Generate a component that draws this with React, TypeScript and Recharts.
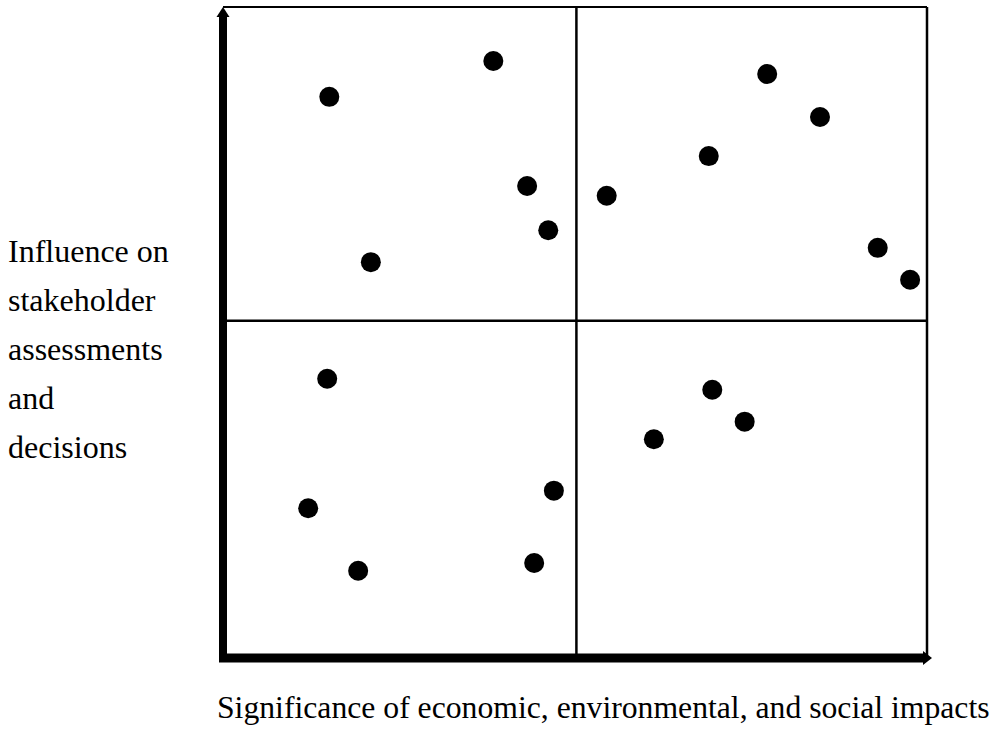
import React from "react";
import { ScatterChart, Scatter, XAxis, YAxis, ReferenceLine } from "recharts";

const significance = [15.1, 38.4, 43.2, 46.2, 21.0, 54.5, 69.0, 77.3, 84.8, 93.0, 97.6, 14.8, 12.1, 19.2, 47.0, 44.2, 69.5, 74.1, 61.2];
const influence = [86.2, 91.7, 72.5, 65.7, 60.8, 71.0, 77.1, 89.7, 83.1, 63.0, 58.1, 42.9, 23.0, 13.4, 25.7, 14.6, 41.2, 36.3, 33.6];
const xMid = 50.2;
const yMid = 51.8;
const yLabelLines = ["Influence on", "stakeholder", "assessments", "and", "decisions"];
const xLabel = "Significance of economic, environmental, and social impacts";

const points = significance.map((x, i) => ({ x, y: influence[i] }));

const FONT = "Liberation Serif";

const YAxisArrow = (p: any) => {
  const x = p.x1;
  const top = Math.min(p.y1, p.y2);
  const bottom = Math.max(p.y1, p.y2);
  return (
    <g>
      <rect x={x - 4} y={top + 9} width={8} height={bottom - top - 5} fill="#000" />
      <polygon points={`${x},${top} ${x - 6.5},${top + 10} ${x + 6.5},${top + 10}`} fill="#000" />
    </g>
  );
};

const XAxisArrow = (p: any) => {
  const y = p.y1;
  const left = Math.min(p.x1, p.x2);
  const right = Math.max(p.x1, p.x2);
  return (
    <g>
      <rect x={left - 4} y={y - 4.5} width={right - left} height={9} fill="#000" />
      <polygon points={`${right + 5},${y} ${right - 4},${y - 7} ${right - 4},${y + 7}`} fill="#000" />
    </g>
  );
};

const Dot = (p: any) => <circle cx={p.cx} cy={p.cy} r={10} fill="#000" />;

export default function App() {
  return (
    <div style={{ position: "absolute", left: 0, top: 0, width: 1000, height: 730, background: "#fff" }}>
      <ScatterChart width={1000} height={730} margin={{ left: 223, right: 73, top: 7, bottom: 72 }}>
        <XAxis type="number" dataKey="x" domain={[0, 100]} hide allowDataOverflow />
        <YAxis type="number" dataKey="y" domain={[0, 100]} hide allowDataOverflow />
        <ReferenceLine y={100} stroke="#000" strokeWidth={2} />
        <ReferenceLine x={100} stroke="#000" strokeWidth={2.5} />
        <ReferenceLine x={xMid} stroke="#000" strokeWidth={2.5} />
        <ReferenceLine y={yMid} stroke="#000" strokeWidth={2.5} />
        <ReferenceLine x={0} stroke="#000" shape={YAxisArrow} />
        <ReferenceLine y={0} stroke="#000" shape={XAxisArrow} />
        <Scatter data={points} fill="#000" shape={Dot} isAnimationActive={false} />
      </ScatterChart>
      <svg width={1000} height={730} style={{ position: "absolute", left: 0, top: 0, pointerEvents: "none" }}>
        {yLabelLines.map((t, i) => (
          <text key={t} x={8} y={262 + i * 49} style={{ fontFamily: FONT, fontSize: 32 }} fill="#000">
            {t}
          </text>
        ))}
        <text x={217} y={718} style={{ fontFamily: FONT, fontSize: 31.7 }} fill="#000">
          {xLabel}
        </text>
      </svg>
    </div>
  );
}
